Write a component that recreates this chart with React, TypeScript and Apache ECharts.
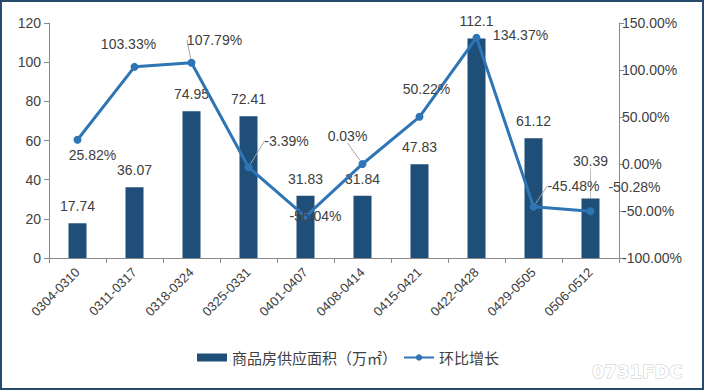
import React, { useEffect, useRef } from "react";
import * as echarts from "echarts";

const categories = ["0304-0310", "0311-0317", "0318-0324", "0325-0331", "0401-0407", "0408-0414", "0415-0421", "0422-0428", "0429-0505", "0506-0512"];
const supplyArea = [17.74, 36.07, 74.95, 72.41, 31.83, 31.84, 47.83, 112.1, 61.12, 30.39];
const growthRate = [25.82, 103.33, 107.79, -3.39, -56.04, 0.03, 50.22, 134.37, -45.48, -50.28];
const leftTicks = { min: 0, max: 120, interval: 20 };
const rightTicks = { min: -100, max: 150, interval: 50 };

// label displacement (style only): dx, dy, leader line
const lineLabelShift = [
  [15, 31, false], [-6, -7, false], [23, -7, true], [38, -10, true], [10, 15, false],
  [-15, -12, true], [7, -12, false], [44, 13, false], [40, -5, true], [44, -8, false],
] as [number, number, boolean][];
const barLabelShift = [0, 0, 0, 0, 0, 0, 0, 0, 0, -20];

const FONT = "'Liberation Sans', Arial, sans-serif";
const TXT = "#404040";
const AXIS = "#898989";

export default function App() {
  const ref = useRef<HTMLDivElement>(null);
  useEffect(() => {
    const chart = echarts.init(ref.current!, null, { renderer: "svg" });
    chart.setOption({
      animation: false,
      backgroundColor: "#fff",
      textStyle: { fontFamily: FONT },
      grid: { left: 49, right: 86, top: 23, bottom: 134 },
      legend: {
        bottom: 22,
        left: 192,
        itemWidth: 30,
        itemHeight: 8,
        itemGap: 6,
        textStyle: { fontSize: 15, color: TXT, fontFamily: "'Noto Sans CJK SC', sans-serif" },
        data: [
          { name: "商品房供应面积（万㎡）", icon: "rect" },
          { name: "环比增长" },
        ],
      },
      xAxis: {
        type: "category",
        data: categories,
        axisLine: { lineStyle: { color: AXIS } },
        axisTick: { show: true, length: 5, lineStyle: { color: AXIS } },
        axisLabel: { rotate: 45, color: TXT, fontSize: 13, interval: 0, margin: 12 },
      },
      yAxis: [
        {
          type: "value",
          ...leftTicks,
          splitLine: { show: false },
          axisLine: { show: true, lineStyle: { color: AXIS } },
          axisTick: { show: true, length: 5, lineStyle: { color: AXIS } },
          axisLabel: { color: TXT, fontSize: 14, margin: 8 },
        },
        {
          type: "value",
          ...rightTicks,
          position: "right",
          splitLine: { show: false },
          axisLine: { show: true, lineStyle: { color: AXIS } },
          axisTick: { show: true, length: 5, lineStyle: { color: AXIS } },
          axisLabel: { color: TXT, fontSize: 14, margin: 3, formatter: (v: number) => v.toFixed(2) + "%" },
        },
      ],
      series: [
        {
          name: "商品房供应面积（万㎡）",
          type: "bar",
          data: supplyArea.map((v, i) => ({ value: v, labelLine: { show: barLabelShift[i] !== 0 } })),
          barWidth: 18,
          itemStyle: { color: "#1F4E79" },
          label: { show: true, position: "top", distance: 10, color: TXT, fontSize: 14 },
          labelLine: { lineStyle: { color: "#bfbfbf", width: 1 } },
          labelLayout: (p: any) => ({ dy: barLabelShift[p.dataIndex] }),
          z: 1,
        },
        {
          name: "环比增长",
          type: "line",
          yAxisIndex: 1,
          data: growthRate.map((v, i) => ({ value: v, labelLine: { show: lineLabelShift[i][2] } })),
          symbol: "circle",
          symbolSize: 8,
          lineStyle: { color: "#2E75B6", width: 3 },
          itemStyle: { color: "#2E75B6" },
          label: { show: true, position: "top", distance: 5, color: TXT, fontSize: 14, formatter: (p: any) => p.value.toFixed(2) + "%" },
          labelLine: { lineStyle: { color: "#a6a6a6", width: 1 } },
          labelLayout: (p: any) => {
            const s = lineLabelShift[p.dataIndex];
            return { dx: s[0], dy: s[1] };
          },
          z: 3,
        },
      ],
      graphic: [
        {
          type: "rect",
          shape: { x: 1, y: 1, width: 702, height: 388 },
          style: { fill: "none", stroke: "#274B6D", lineWidth: 2 },
          silent: true,
        },
        {
          type: "text",
          x: 592,
          y: 362,
          style: {
            text: "0731FDC",
            font: "bold 18px 'DejaVu Sans', sans-serif",
            fill: "#ffffff",
            stroke: "#c8c8c8",
            lineWidth: 1,
          },
          silent: true,
        },
      ],
    });
    return () => chart.dispose();
  }, []);
  return <div ref={ref} style={{ position: "fixed", left: 0, top: 0, width: 705, height: 392 }} />;
}
